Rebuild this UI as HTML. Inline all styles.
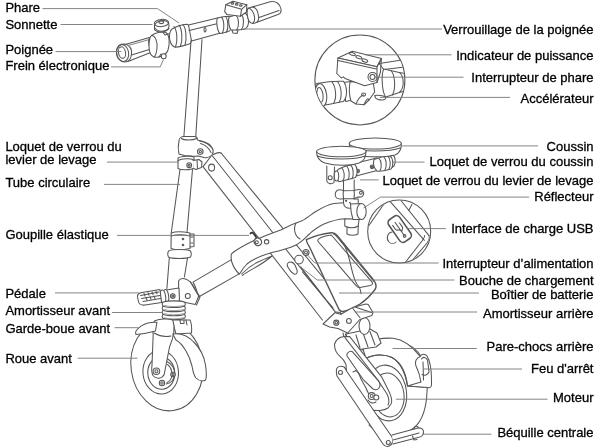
<!DOCTYPE html>
<html><head><meta charset="utf-8"><style>
html,body{margin:0;padding:0;background:#fff;}
body{width:600px;height:448px;overflow:hidden;}
svg{display:block;will-change:transform;filter:blur(0.3px);}
text{font-family:"Liberation Sans",sans-serif;font-size:13px;fill:#000;stroke:#000;stroke-width:0.3px;}
</style></head><body>
<svg width="600" height="448" viewBox="0 0 600 448">

<g fill="none" stroke="#555" stroke-width="1.05" stroke-linejoin="round" stroke-linecap="round">
<!-- ===== REAR WHEEL (back) ===== -->
<path d="M362 350 C380 338 405 338 418 352 C426 362 428 378 427 392 C426.5 405 424 418 415.4 426.7 C408 433 399 436.4 391.3 436.4 C383 436 375 432 369 425" fill="#fff"/>
<ellipse cx="387" cy="393" rx="19.5" ry="28" transform="rotate(-8 387 393)" fill="#fff"/>
<ellipse cx="388.5" cy="395" rx="15.5" ry="22" transform="rotate(-8 388.5 395)"/>
<!-- rear fender -->
<path d="M362 346 C370 339.5 383 337.5 393.4 338.3 C403 339.5 412 346 420.2 356.4 L421 382 L428 387.5 L407.5 386 C406 372 400 362 392 357.5 C385 354 374 354 366 358.5 Z" fill="#fff"/>
<path d="M366 358.5 C374 354 385 354 392 357.5 C400 362 405 372 407.5 386"/>
<!-- tail light -->
<path d="M420.2 356.4 C421.5 353.8 425 353.5 427 356 C429.5 360 431.5 370 431.5 380 L431.5 385 C431 387.5 430 388 428 387.5 L407.5 386 L421 382 C420 376 418 370 416 366 C414.5 362 416 358 420.2 356.4 Z" fill="#fff"/>
<path d="M421.5 359 C423 356.5 426 357 427.5 360 L429 372 C428 375 424 376 422 374.5"/>
<path d="M423 362 L423.5 380"/>
<!-- ===== LONG TUBE (hinge to rear) ===== -->
<path d="M203 166.6 L203 166.6 L212.1 155.5 L221.1 153 L358 320 L322.4 320 Z" fill="#fff" stroke="none"/>
<path d="M203 166.6 L322.4 320"/>
<path d="M212.1 155.5 L341.6 320"/>
<path d="M221.1 153 L335 292"/>
<path d="M203 166.6 L211 156.2 M213.5 154.5 C216 153 219 152.2 221.1 153"/>
<ellipse cx="211.6" cy="167.6" rx="3" ry="3.5"/>
<!-- slot & charge port on tube -->
<path d="M288 263 C290 261 293 262 295 265 L297 270 C298 273 296 275 294 274 C292 273 290 271 288.5 268 C287 266 287 264 288 263Z"/>
<circle cx="299" cy="259.6" r="4.3" fill="#fff"/>
<path d="M300.7 266.8 L334 310 M302.5 272 L333 307.9"/>
<!-- ===== BATTERY ===== -->
<path d="M306.3 239.7 C313 236.5 323 233.5 331.3 232.7 C334 232.5 335.5 233.5 336.7 235 L373.4 279.6 C376 283 377 286.5 375 289.5 C371 295 366 300 360 304 C354 307.5 348 310.5 343 311.5 C341 311.8 340 311 339 309.5 L309.4 246.8 C307.5 244 306.5 242 306.3 239.7 Z" fill="#fff" stroke-width="1.4"/>
<path d="M318.8 238.9 C321 237 328 235.2 331.3 235 L371.9 281.9 C373 283.5 372.5 285 370.3 285.5 L360 287.4 C358 287.8 357 287 356.3 285.8 L318.5 242 C317.5 240.8 317.7 239.6 318.8 238.9 Z"/>
<path d="M340.6 240.5 C344 244 346 248 346.9 251.4 C348.5 256 349.5 260 350 262 C351 266 352 272 354.7 279.6 C356 283 357.5 285.5 359.4 287.4 C360.5 290 361 292 361 293.6"/>
<path d="M333.5 234 C335 234.5 336 235.5 337.5 237.5 L374 281.5"/>
<circle cx="306" cy="252.4" r="3" fill="#fff"/><circle cx="306" cy="252.4" r="1.4"/>
<!-- ===== REAR SHOCK MOUNT ===== -->
<path d="M346 334 L370 329 L377 333 L381 343 L376 347 L356 350 L349 346 Z" fill="#fff"/>
<path d="M356 335 L360 348 M363 333 L368 347 M370 331.5 L375 345"/>
<ellipse cx="364.5" cy="326" rx="5.5" ry="8.5" fill="#fff"/>
<path d="M323 324 L335.7 312 L340.5 312.5 L341 314.3 L352.5 307.6 L365.8 304 L368.2 304.6 L373 312.5 L371.8 315.5 L359.8 319.5 L347.7 333 L338 328.5 L329.6 327 Z" fill="#fff"/>
<path d="M352.5 308 L359.8 317.5 M355 307 L371.5 312.5 M336 313 L341 314.3"/>
<circle cx="336.3" cy="322.7" r="2.6" fill="#fff"/><circle cx="336.3" cy="322.7" r="1.3"/>
<circle cx="348.9" cy="320.9" r="2.4"/>
<path d="M343 333 L347.7 352 M345.3 334 L355 352"/>
<!-- ===== SWING ARM ===== -->
<path d="M334.5 344.2 C336 340 340 337 344 336.6 L349.7 336.6 L382 377.4 L389.5 392.6 C392 398 392 402 391 404 L388 408 C384 411 376 411 370.5 409.7 L365.8 404 L347 376 C346 371 346.5 367 345.9 364.2 C344 360 342 358 340.2 356.6 C337 354 334.5 350 334.5 344.2 Z" fill="#fff"/>
<path d="M345 337.6 L378 380.3 L387 394 C389 398 389.5 402 388 405"/>
<path d="M347.8 352.8 C349.5 351 351 351 352.5 351.8 L378 380.3 C380 383 380.5 386 379 388 C377.5 390 375 390 373 389 L363 379.3 L347 356 C346.5 354.8 347 353.5 347.8 352.8 Z"/>
<path d="M353 372 L356 370.5 C358 372 360 376 361 379 L366 388 C367 391 369 394 370 397"/>
<circle cx="371.7" cy="396" r="3.4" fill="#fff"/><circle cx="371.7" cy="396" r="1.5"/>
<circle cx="376.3" cy="397.5" r="2.5" fill="#fff"/>
<path d="M368 400 C370 403 373 404 376 402"/>
<!-- kickstand -->
<path d="M336.4 370 C336.5 366.5 341 365.5 344 367 C345.5 368 346 369.5 346.5 371 L392 437 C394 441 392 446 387.5 446.5 C385.5 446.5 384 445.5 383 444 L337 376 C336.5 374 336.3 372 336.4 370 Z" fill="#fff"/>
<circle cx="340.5" cy="372.5" r="2" fill="#fff"/>
<circle cx="388.3" cy="442.5" r="2" fill="#fff"/>
<path d="M392 435 L418 428 C422 427.5 424 430 423.5 433 C423 436 421 437 418 437.5 L393 444" fill="#fff"/>
<path d="M393 440 L419 433"/>
<path d="M414 429 C414 426 417 425 419 428 M412.5 436 L414 440 L417 439.5"/>
<!-- ===== MAIN BODY ===== -->
<!-- front lower tube -->
<path d="M193 282.1 L231.4 259.6 L238.7 274.1 L198.1 297.3 C197 291 195.5 286 193 282.1 Z" fill="#fff"/>
<!-- lower block under seat tube -->
<path d="M344.8 216 L344.8 226 L347 227 L347 234 C350 235.5 355 235.5 358 234 L358.2 226 L359 220 L359 216" fill="#fff"/>
<path d="M347 227 C350 228 355 228 358.2 226"/>
<!-- body -->
<path d="M231.4 253.8 C237.2 248.7 246 244.4 255 240 C262 237 272 233 281.3 229.7 C288 226 294.7 223 302.7 220.4 C306 218.5 310 215.5 315 212 C322 207.5 328 204.5 334 203.4 L343.5 202.8 L350 202.5 L356 219 L344.8 218.8 C338 219.2 330 221.5 323.4 224.2 C317 227.5 313 230.5 310 233.5 C306 237 302 242 296 245 C290 248 281 250.5 271.9 252.5 C263 255 253 259 247 264 C243 268 241 271.5 239.4 274.1 C236 271 233 266 231.8 262 C231 259 231 256 231.4 253.8 Z" fill="#fff"/>
<path d="M296 223 C294 227 294.5 232 296 235 C297 237 298.5 238.5 300 239"/>
<path d="M241.6 274 C246 269.5 251 265.5 257 262.5 C262 260 267 258 272 256 C268 259.5 262 263.5 257 266.5 C252 269.5 246 272.5 242.4 275.5"/>
<!-- goupille pin -->
<path d="M250.5 233.5 C251.5 232 253 232.5 254 234 L259 241.5" stroke-width="1.8" stroke="#333"/>
<ellipse cx="257.8" cy="241.8" rx="3.6" ry="3.9" transform="rotate(-35 257.8 241.8)" fill="#fff" stroke-width="1.3"/>
<circle cx="256.8" cy="242.3" r="1.5"/>
<circle cx="266.6" cy="241.8" r="2.2"/>
<!-- ===== SEAT POST & SEAT ===== -->
<path d="M343.5 180 L343.5 203 C344 207 347 208.5 350.5 208.3 M354.2 180 L354.2 199 L358.2 199 L358.2 205" fill="#fff"/>
<path d="M350.5 204 L361.5 203.5 L361.5 219.5 L353 219.5 C351.5 215 350.5 209 350.5 204 Z" fill="#fff"/>
<ellipse cx="361.5" cy="211.5" rx="4.7" ry="8" fill="#fff"/>
<path d="M337 190.5 C339 189.5 341.5 189.8 343.5 190.7 L354 190.5 L357 189.8 C360 189 363.5 190 363.7 193 C364 196 361.5 197.5 358 197 L354 198.7 L343.5 198.7 C341 199 338 199.5 336.5 198 C334.5 196 335 192 337 190.5Z" fill="#fff"/>
<path d="M343.5 190.7 C343 193 343 196 343.5 198.7 M354 190.5 C354.5 193 354.5 196 354 198.7"/>
<circle cx="360.9" cy="192.7" r="1.4"/>
<circle cx="346.1" cy="200.8" r="0.6"/>
<!-- seat bar -->
<path d="M390 156 L393 155 C395.5 157 396 163 394 166 L391 168" fill="#fff"/>
<path d="M350 164.5 L377 158 L379 170 L354 176.5 Z" fill="#fff"/>
<circle cx="357.7" cy="171" r="1.8"/><circle cx="357.7" cy="171" r="0.7"/>
<circle cx="372" cy="166.8" r="1.8"/><circle cx="372" cy="166.8" r="0.7"/>
<path d="M374 159.5 C379 157.5 386 156 390 155.8 C393 158 394 166 391 169 C386 170.5 381 171.5 377 171.2 C374 168 373 163 374 159.5 Z" fill="#fff"/>
<path d="M379 158.3 C381.5 161 382 167 380 170.6 M384 157 C386.5 160 387 166 385 169.8 M388 156.2 C390.5 159 391 165 389 168.8"/>
<path d="M338 169.5 C342 167 350 165 354.5 164.2 C357.5 167 358 174 355.5 177.5 C350 179 343 181 339 181.7 C336 179 335.5 173 338 169.5 Z" fill="#fff"/>
<path d="M342 168.2 C344.5 171 345 177 343 180.8 M347 166.5 C349.5 169.5 350 176 348 179.8 M351 165.3 C353.5 168 354 175 352 178.8"/>
<path d="M326.8 166 L326.8 181 C327.5 184 332 184.5 334 182.5 L334.5 167" fill="#fff"/>
<circle cx="330.2" cy="177.7" r="2"/>
<ellipse cx="336.5" cy="176" rx="2.2" ry="5" fill="#fff"/>
<!-- right cushion -->
<path d="M349.3 143.5 C349 149 352 153 358 155 C368 157.5 385 157.5 395 155 C400 153 401.5 149 401.3 143.5" fill="#fff"/>
<ellipse cx="375.3" cy="143.5" rx="26" ry="5.5" fill="#fff"/>
<path d="M350.5 148 C360 152 390 152 400 148"/>
<!-- left cushion -->
<path d="M316.6 151.5 C316.5 157 319 161 325 163 C335 166 350 166 359 163 C364.5 161 366 157 366 151.5" fill="#fff"/>
<ellipse cx="341.3" cy="151.5" rx="24.7" ry="5.3" fill="#fff"/>
<path d="M317.5 156 C327 160 356 160 365 156"/>
<!-- ===== FRONT LOWER STEERER ===== -->
<path d="M180 169.5 L171.3 232.5 M192.5 169.5 L187 232.5"/>
<path d="M171.2 233 C175 231.5 183 231.5 190 233 L190 248.5 C183 250 175 250 171 248.5 Z" fill="#fff"/>
<path d="M171.2 236 C176 234.5 184 234.5 190 236"/>
<path d="M190 234 L194 234 L194 246.5 L190 247"/>
<path d="M191 237 L193 237 M191 243 L193 243"/>
<circle cx="183" cy="239" r="0.8"/><circle cx="183" cy="245" r="0.8"/>
<path d="M168.5 251 C172 249 186 249 190.5 251 C191.5 253 191.5 255 190.5 257 C186 259 172 259 168.5 257 C167.5 255 167.5 253 168.5 251 Z" fill="#fff"/>
<path d="M169.3 258 L166.9 288.5 M187.5 258 L184.4 277"/>
<!-- head bracket -->
<path d="M178.6 301 L178.6 281 C180 278 184 277 190.3 281.8 L198.7 296 L195.3 304.4 Z" fill="#fff"/>
<path d="M190.3 281.8 L192 284 L200 297 L196.5 305"/>
<circle cx="187.8" cy="296" r="2.5"/>
<!-- pedal -->
<path d="M166 290 L179 288 L179.5 301 L167.5 303 Z" fill="#fff"/>
<circle cx="172.8" cy="296" r="2.3"/><circle cx="172.8" cy="296" r="1"/>
<ellipse cx="166" cy="296" rx="2.6" ry="6.6" transform="rotate(-8 166 296)" fill="#fff"/>
<ellipse cx="163" cy="296.5" rx="2.6" ry="6.6" transform="rotate(-8 163 296.5)" fill="#fff"/>
<path d="M137.5 297 C137 294.5 139 293 142 292.5 L160 289.5 L161.5 302.5 L145 305 C141 305.5 139 304 138.5 301.5 Z" fill="#fff"/>
<path d="M140.5 295.5 L159 292 M141.5 298.5 L160 295.5 M143 301.5 L160.5 298.5"/>
<path d="M144 293.5 L145 296 M148 292.8 L149 295.3 M152 292 L153 294.5 M156 291.3 L157 293.8 M146 297.5 L147 300 M150 296.8 L151 299.3 M154 296 L155 298.5"/>
<!-- bellows -->
<path d="M163.5 314.2 C168 312.8 180 312.8 184 314.2 C185.8 315.2 185.8 317.6 184 318.6 C180 320.2 168 320.2 163.5 318.6 C161.8 317.6 161.8 315.2 163.5 314.2 Z" fill="#fff"/>
<path d="M164 317.8 C169 319.2 179 319.2 183.5 317.8" stroke="#999" stroke-width="0.9"/>
<path d="M163.5 310.1 C168 308.7 180 308.7 184 310.1 C185.8 311.1 185.8 313.5 184 314.5 C180 316.1 168 316.1 163.5 314.5 C161.8 313.5 161.8 311.1 163.5 310.1 Z" fill="#fff"/>
<path d="M164 313.7 C169 315.1 179 315.1 183.5 313.7" stroke="#999" stroke-width="0.9"/>
<path d="M163.5 306.0 C168 304.6 180 304.6 184 306.0 C185.8 307.0 185.8 309.4 184 310.4 C180 312.0 168 312.0 163.5 310.4 C161.8 309.4 161.8 307.0 163.5 306.0 Z" fill="#fff"/>
<path d="M164 309.6 C169 311.0 179 311.0 183.5 309.6" stroke="#999" stroke-width="0.9"/>
<path d="M163.5 301.9 C168 300.5 180 300.5 184 301.9 C185.8 302.9 185.8 305.3 184 306.3 C180 307.9 168 307.9 163.5 306.3 C161.8 305.3 161.8 302.9 163.5 301.9 Z" fill="#fff"/>
<path d="M164 305.5 C169 306.9 179 306.9 183.5 305.5" stroke="#999" stroke-width="0.9"/>
<!-- ===== FRONT WHEEL ===== -->
<ellipse cx="167" cy="366" rx="36" ry="45" transform="rotate(-8 167 366)" fill="#fff"/>
<ellipse cx="160.7" cy="372.2" rx="17.8" ry="21.8" transform="rotate(-5 160.7 372.2)"/>
<ellipse cx="161.3" cy="373" rx="13.5" ry="16.3" transform="rotate(-5 161.3 373)"/>
<path d="M166.9 361.6 C172 364 175 369 174.5 375 C174 380 171 383 166.3 384"/>
<path d="M167.5 364.5 C171 367 172.3 371 171.8 376 C171.3 379.5 169.5 381.5 167 382.5"/>
<circle cx="173" cy="374.5" r="2.3" fill="#fff"/><circle cx="173" cy="374.5" r="1"/>
<circle cx="162" cy="383" r="2.7" fill="#fff"/><circle cx="162" cy="383" r="1.2"/>
<!-- fork crown -->
<path d="M172 320 L190 320 C191.5 323 192 327 191.5 333 L176 334 Z" fill="#fff"/>
<path d="M180 320 L180.5 323.5 L184 323.5 L184 320 M186 320 L187 325"/>
<!-- fork leg -->
<path d="M154.4 321 C160 318.5 168 318.5 172.8 320 C175.5 328 173.5 338 169.5 347 L164.2 374.5 C162 379 156 379.5 153 375.5 C151.5 373 151.5 369 152 365 L153.2 334.6 C152.5 330 153 324 154.4 321 Z" fill="#fff"/>
<path d="M154 333 C159 336 166 337 171 336"/>
<circle cx="156.4" cy="371.2" r="3.3" fill="#fff"/><circle cx="156.4" cy="371.2" r="1.5"/>
<!-- front fender -->
<path d="M136 331 C139 327 144 324 148 323 C151 322.3 154 322 156.9 322.3 L155.5 331 C150 332.5 143 334 136 334.6 C135.5 333.5 135.5 332 136 331 Z" fill="#fff"/>
<path d="M172.8 334 C180 333 188 336 193.7 342 C200 348 204 356 205.5 365 C206.5 372 207 377 205.5 380 C203 381.5 199 381 196 378 C193.5 375 193 371 192 366 C190.5 360 189 356 186 351 C183 346 180 342 176 340 Z" fill="#fff"/>
<!-- ===== STEM & HINGE ===== -->
<path d="M191 41 L183.7 139 M202 39.5 L195.6 139"/>
<path d="M179 141 C179 138 181.5 136.5 184 136.5 L195 136.5 C197 137 197.5 139 197.5 140 C202 141 207 142.5 210 145 C213 148 214 152 212 155 C210 157.5 207 158 204 157.5 L198 156 C192 156.5 184 156 179 154 C178 150 178 145 179 141 Z" fill="#fff"/>
<path d="M181.5 138.5 C184 140.5 193 140.5 196.5 138.5"/>
<path d="M199.5 141 C205 142 210 145 213 149.5 M200.5 143.5 C205.5 145 209 148 211 152.5"/>
<circle cx="200.3" cy="151.6" r="2.8"/><circle cx="200.3" cy="151.6" r="1.2"/>
<path d="M178 158 C181 156 191 155.5 194 157 L194 168 C191 170 181 170.5 178 168.5 Z" fill="#fff"/>
<path d="M178 160.5 C182 158.5 190 158 194 160"/>
<path d="M193 160.5 L199 159.5 L202 162 L201.5 167.5 L196 169.5 L193.5 168.5" fill="#fff"/>
<path d="M197 160 L197.5 168.5"/>
<circle cx="189.2" cy="165.2" r="2.4" fill="#fff"/><circle cx="189.2" cy="165.2" r="1"/>
<!-- ===== HANDLEBAR ===== -->
<!-- left grip -->
<path d="M119.5 45.5 C122 44 124 44 126 44.2 L149.5 37.5 L152 52 L128.5 61.2 C125 62.5 121 62 118.5 59 C115.5 55 116 48.5 119.5 45.5 Z" fill="#fff"/>
<ellipse cx="122.6" cy="52.9" rx="6" ry="8.6" transform="rotate(-12 122.6 52.9)"/>
<ellipse cx="122" cy="52.6" rx="3.5" ry="5.8" transform="rotate(-12 122 52.6)"/>
<path d="M131.5 55 L151 49"/>
<path d="M126 44.3 C130 46 132 50 131.5 54 C131 58 129.5 60.5 127.5 61.5"/>
<path d="M128 45.5 L149.5 39.5" stroke="#888"/>
<path d="M149.5 37.5 Q147 44 152 52"/>
<!-- brake housing -->
<path d="M151.5 35.5 C156 32 163 31 166.5 33 C169.5 35.5 170 44 168 50 C166 55.5 159 58 154 57 C151 56 149 52 149 46 C149 41 149.5 37 151.5 35.5 Z" fill="#fff"/>
<path d="M152 35.5 C155.5 36 157.5 42 157 48 C156.5 53 155.5 56 154 57"/>
<path d="M159 57 L161 54"/>
<circle cx="163.7" cy="56.3" r="2.5" fill="#fff"/>
<!-- bell -->
<g transform="translate(-0.5 1.5)">
<path d="M155 24 C156 21 160 19 163 19 C167 19 170 21 169.5 24 L169 27 C167 31 158 32 155 28 Z" fill="#fff"/>
<ellipse cx="162" cy="21.5" rx="7.2" ry="3.6" transform="rotate(-6 162 21.5)"/>
<ellipse cx="161.8" cy="20.8" rx="2.4" ry="1.3"/>
<path d="M155 26 C158 30.5 165 31 169.5 27"/>
</g>
<path d="M163 32.5 L165 35 L170 33.5 L171 30"/>
<!-- left collar -->
<path d="M172 29 C176 26.5 183 24.5 187 24.2 C191 25.5 193 36 190.5 43.5 C185 45.5 179 47 175 47.2 C171 46 169 40 169.5 35 C170 32 171 30 172 29 Z" fill="#fff"/>
<path d="M174 26.5 C177 30 178 41 175.5 47"/>
<path d="M179 25.2 C182 29 183 40 180.5 46"/>
<path d="M183 24.5 C186 28 187 39 185 45"/>
<!-- center bar -->
<path d="M188.5 25 L218.5 17.8 L220.5 33 L191.5 41 Z" fill="#fff"/>
<path d="M189 30.5 L219 23.3"/>
<ellipse cx="205" cy="29.8" rx="1" ry="2.2"/>
<!-- right rings -->
<path d="M217.5 18 C221 17 225 16.3 229 16.2 C231.5 18 232.5 28 229.5 31 C226 32 223 33 220 33.5 C217 31 216 21 217.5 18 Z" fill="#fff"/>
<path d="M221.5 17.2 C224 20 224.8 29 222.5 33 M225.5 16.5 C228 19 228.8 28 226.5 32.3"/>
<!-- clamp under box -->
<path d="M229 17 L236 15 L244 13 C247 13 249 18 248.5 23 C248 27 246 29 243 29.5 L236 30 L231 30 C229 28 228 20 229 17 Z" fill="#fff"/>
<path d="M236 15 C239 18 239.5 26 236.5 30 M241 13.5 C244 17 244.5 25 241.5 29.6"/>
<path d="M232 30 L233 33 L237 33.5 L238 30"/>
<!-- indicator box -->
<path d="M225.8 4.7 L232.8 1.2 L246.8 4.7 L246.5 12 L240.4 16.3 L227 14.6 L224.7 11.7 Z" fill="#fff"/>
<path d="M225.8 4.7 L241.6 9.3 L246.8 4.7 M241.6 9.3 L240.4 16.3"/>
<ellipse cx="232.5" cy="3.4" rx="1.3" ry="0.8"/><ellipse cx="236.7" cy="4.4" rx="1.3" ry="0.8"/><ellipse cx="240.8" cy="5.5" rx="1.3" ry="0.8"/>
<!-- right grip -->
<path d="M248 8.2 L270.2 1.8 C276 0.5 280 4 281 9 C281.5 12 280.5 13.5 278 14.5 L255 23 C252 24 250 23 249 21 C247 17 246.5 11 248 8.2 Z" fill="#fff"/>
<path d="M248 8.2 C251.5 8 254 13 254.5 17 C255 20.5 254 22.5 252.5 23.5"/>
<path d="M252.5 7 C256 7.5 258 12 258.5 16 C259 19 258.5 21 257 22"/>
<path d="M259 17.5 L279 10.5"/>
<!-- ===== DETAIL CIRCLE 1 ===== -->
<defs>
<clipPath id="c1"><circle cx="359.9" cy="79.9" r="44.5"/></clipPath>
<clipPath id="c2"><circle cx="399.2" cy="231.5" r="31"/></clipPath>
</defs>
<circle cx="359.9" cy="79.9" r="45" fill="#fff"/>
<g clip-path="url(#c1)">
<!-- throttle right -->
<path d="M379.2 63.5 L408.2 59 L406 66.8 L383.7 69.5 Z" fill="#fff"/>
<path d="M383.7 69 L399.3 72.4 C404 76 405 88 399.3 92.5 L385.9 97 C382 93 381 75 383.7 69 Z" fill="#fff"/>
<path d="M391 70.5 C395 75 396 88 392.5 95"/>
<path d="M399.3 72.4 L408 74 M399.3 92.5 L408 90"/>
<!-- bar behind -->
<path d="M343.5 82.5 L359 80.2 L366 82 L365.8 97 L345.7 101.4 Z" fill="#fff"/>
<!-- grip -->
<path d="M316.7 83.6 C325 82 335 81 343.5 81.3 C347 86 348 96 343.5 101.4 C336 103 327 105 319 105.9 C313 103 312 87 316.7 83.6 Z" fill="#fff"/>
<ellipse cx="321" cy="95" rx="5.6" ry="11.5" transform="rotate(-8 321 95)" fill="#fff"/>
<ellipse cx="320" cy="95" rx="3" ry="7.5" transform="rotate(-8 320 95)"/>
<path d="M332 82 C336 87 337 98 333.5 103.5 M337.5 81.5 C341.5 86.5 342.5 97 339 102.5"/>
<!-- lower clamp -->
<path d="M350 82 L373 81 L374.7 92 L369 100 L364 104.8 L356 104 L351 101 C349 95 349 88 350 82 Z" fill="#fff"/>
<path d="M356 104 C358 99 360 96 363.5 95 M364 104.8 C366 100 368 97 369 100"/>
<ellipse cx="363.6" cy="94.5" rx="2" ry="1.6"/>
<path d="M374.7 95.5 C378 95 384 95.5 386 97.5 C386 100 382 100.5 378 99.5 C376 99 375 97.5 374.7 95.5Z" fill="#fff"/>
<!-- box -->
<path d="M337.9 57.9 L352.4 51.2 L381.4 58.6 L377 66.8 Z" fill="#fff"/>
<path d="M337.9 57.9 L377 66.8 L377 82.5 L364.7 85.8 L345 78.5 L343.5 76.9 L341.3 78 L336.8 73.5 Z" fill="#fff"/>
<path d="M377 66.8 L381.4 58.6 L380.5 72 L377 82.5"/>
<path d="M338 60.5 L376.5 69"/>
<ellipse cx="352.4" cy="54" rx="3" ry="1.4" transform="rotate(20 352.4 54)"/>
<ellipse cx="358.8" cy="57.3" rx="3" ry="1.4" transform="rotate(20 358.8 57.3)"/>
<ellipse cx="364.9" cy="60.6" rx="3" ry="1.4" transform="rotate(20 364.9 60.6)"/>
<circle cx="372.5" cy="76.9" r="4.5" fill="#fff"/><circle cx="372.5" cy="76.9" r="2.5"/>
</g>
<!-- ===== DETAIL CIRCLE 2 ===== -->
<circle cx="399.2" cy="231.5" r="31.5" fill="#fff"/>
<g clip-path="url(#c2)">
<path d="M368.9 225.5 L385.3 202"/>
<path d="M390 201.3 L424.4 240.3"/>
<path d="M400.9 200.5 L429 235.6"/>
<path d="M411.9 204.4 L408.8 210.6"/>
<path d="M405.6 262 L422 241 C424 238 425 236 424.4 235.6"/>
<path d="M411 262 L427 243 C429 240.5 430 238 429 235.6"/>
<path d="M416 262 L431 244"/>
<path d="M392 232 C387 233 386 239 389 242 C391 244 394 244 396 242"/>
<g transform="rotate(-35 399.7 229)">
<rect x="393" y="215.5" width="13.4" height="27" rx="4" fill="#fff" stroke-width="1.6"/>
<path d="M396 222 L396 227 M399.7 221 L399.7 237 M403 224 L403 229 M396 227 C396 229 399.7 229 399.7 231 M403 229 C403 231 399.7 231 399.7 233" stroke-width="1.1"/>
<circle cx="399.7" cy="237.5" r="1.3"/>
</g>
</g>
</g>

<g fill="none" stroke="#777" stroke-width="0.9">
<path d="M42.5 8.6H157.5L179 23"/>
<path d="M60.5 24.5H152.5"/>
<path d="M55.5 51.6H121.5"/>
<path d="M111 66.9H160.2L163.5 59.5"/>
<path d="M107 162.1H178.7"/>
<path d="M104 184.4H180"/>
<path d="M117 235.4H249"/>
<path d="M55 292.9H139"/>
<path d="M112 312.5H162.5"/>
<path d="M114.5 327.7H138"/>
<path d="M77.7 358.2H137.5"/>
<path d="M243 29H442"/>
<path d="M365 54.8H451.5"/>
<path d="M375 77.2H463.5"/>
<path d="M380 97.4H510"/>
<path d="M401 145.9H538"/>
<path d="M392.5 162.1H424.5"/>
<path d="M360 179.9H378.7"/>
<path d="M363.5 208.1L380.5 197.1H529.2"/>
<path d="M407 228.6H446"/>
<path d="M306.5 254 L314.8 263 H438.6"/>
<path d="M302 268 L317.2 280 H454.5"/>
<path d="M339 293H479"/>
<path d="M354.5 312H477"/>
<path d="M392.5 348.5H476.8"/>
<path d="M424 369H522"/>
<path d="M395.8 399.2H547.5"/>
<path d="M422 434.2H491.5"/>
</g>
<g>
<text x="5.4" y="12.0">Phare</text>
<text x="5.4" y="28.6">Sonnette</text>
<text x="5.4" y="53.6">Poignée</text>
<text x="5.4" y="70.3">Frein électronique</text>
<text x="5.4" y="151.3">Loquet de verrou du</text>
<text x="5.4" y="163.9">levier de levage</text>
<text x="5.4" y="187.3">Tube circulaire</text>
<text x="5.4" y="238.5">Goupille élastique</text>
<text x="5.4" y="297.8">Pédale</text>
<text x="5.4" y="315.3">Amortisseur avant</text>
<text x="5.4" y="332.6">Garde-boue avant</text>
<text x="5.4" y="363.3">Roue avant</text>
<text x="593.5" y="34.1" text-anchor="end">Verrouillage de la poignée</text>
<text x="593.5" y="59.5" text-anchor="end">Indicateur de puissance</text>
<text x="593.5" y="82.1" text-anchor="end">Interrupteur de phare</text>
<text x="593.5" y="102.5" text-anchor="end">Accélérateur</text>
<text x="593.5" y="150.9" text-anchor="end">Coussin</text>
<text x="593.5" y="165.9" text-anchor="end">Loquet de verrou du coussin</text>
<text x="593.5" y="184.5" text-anchor="end">Loquet de verrou du levier de levage</text>
<text x="593.5" y="201.0" text-anchor="end">Réflecteur</text>
<text x="593.5" y="233.1" text-anchor="end">Interface de charge USB</text>
<text x="593.5" y="267.5" text-anchor="end">Interrupteur d’alimentation</text>
<text x="593.5" y="284.5" text-anchor="end">Bouche de chargement</text>
<text x="593.5" y="299.0" text-anchor="end">Boîtier de batterie</text>
<text x="593.5" y="317.9" text-anchor="end">Amortisseur arrière</text>
<text x="593.5" y="351.1" text-anchor="end">Pare-chocs arrière</text>
<text x="593.5" y="373.0" text-anchor="end">Feu d'arrêt</text>
<text x="593.5" y="402.1" text-anchor="end">Moteur</text>
<text x="593.5" y="436.9" text-anchor="end">Béquille centrale</text>
</g>
</svg></body></html>
